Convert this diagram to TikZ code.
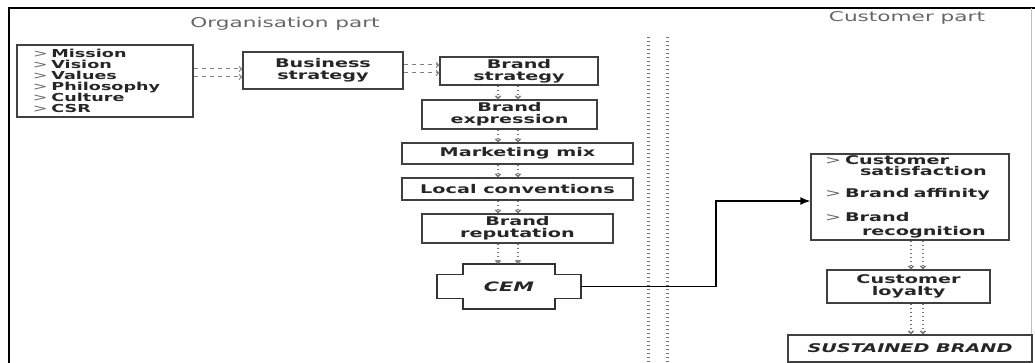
\documentclass[tikz,border=0pt]{standalone}
\usepackage{fontspec}
\setmainfont{DejaVu Sans}[FakeStretch=1.6]
\usetikzlibrary{arrows.meta}

\newcommand\gtmark{{\mdseries\color{black!60}>}\ }

\begin{document}
\begin{tikzpicture}[x=1pt, y=-1pt,
  every node/.style={text=black!85, font=\fontsize{12}{12}\selectfont\bfseries},
  box/.style={draw=black!75, line width=1.4pt, align=center, inner sep=0pt},
  dashlink/.style={draw=black!50, line width=1pt, dash pattern=on 4pt off 4pt,
    -{Straight Barb[length=2.5pt,width=5pt]}},
  dotlink/.style={draw=black!55, line width=1.4pt, dash pattern=on 1.4pt off 2.6pt,
    -{Straight Barb[length=2.5pt,width=5pt]}},
  divider/.style={draw=black!55, line width=3pt, dash pattern=on 1.2pt off 2.8pt},
  title/.style={text=black!60, font=\fontsize{13.5}{14}\selectfont\mdseries}]
  \useasboundingbox (0,0) rectangle (1035,363);

  % frame
  \draw[line width=2.2pt] (9,363) -- (9,8) -- (1035,8);
  \draw[black!25] (1031,8) -- (1031,335);

  % part titles
  \node[title] (orgpart) at (285,24) {Organisation part};
  \node[title] (custpart) at (907,18) {Customer part};

  % organisation side
  \node[box, minimum width=176, minimum height=72, text width=144, align=left,
    font=\fontsize{11}{11}\selectfont\bfseries] (vals) at (105,81)
    {\gtmark Mission\\ \gtmark Vision\\ \gtmark Values\\ \gtmark Philosophy\\
     \gtmark Culture\\ \gtmark CSR};
  \node[box, minimum width=160, minimum height=37] (bus) at (323,70.5) {Business\\strategy};
  \node[box, minimum width=158, minimum height=28] (bstr) at (519,71) {Brand\\strategy};
  \node[box, minimum width=175, minimum height=29] (bexp) at (509.5,114.5) {Brand\\expression};
  \node[box, minimum width=231, minimum height=21] (mix) at (517.5,153.5) {Marketing mix};
  \node[box, minimum width=231, minimum height=22] (loc) at (517.5,189) {Local conventions};
  \node[box, minimum width=191, minimum height=29] (brep) at (517.5,228.5) {Brand\\reputation};
  \node[minimum width=144, minimum height=45,
    font=\fontsize{13}{13}\selectfont\bfseries\itshape] (cem) at (509,286.5) {CEM};
  \draw[draw=black!80, line width=1.6pt] (cem.center)
    +(-46,-22.5) -- +(46,-22.5) -- +(46,-12) -- +(72,-12) -- +(72,12) -- +(46,12)
    -- +(46,22.5) -- +(-46,22.5) -- +(-46,12) -- +(-72,12) -- +(-72,-12) -- +(-46,-12) -- cycle;

  % customer side
  \node[box, minimum width=198, minimum height=86, text width=170, align=left,
    font=\fontsize{12}{11}\selectfont\bfseries] (cust) at (910,197)
    {\gtmark Customer\\ \hspace{35pt}satisfaction\\[11pt] \gtmark Brand affinity\\[11pt]
     \gtmark Brand\\[3pt] \hspace{37pt}recognition};
  \node[box, minimum width=163, minimum height=33] (loy) at (908.5,286.5) {Customer\\loyalty};
  \node[box, minimum width=244, minimum height=27,
    font=\fontsize{12}{12}\selectfont\bfseries\itshape] (sust) at (910,348.5) {SUSTAINED BRAND};

  % dashed links
  \coordinate (rowA) at (0,69);
  \coordinate (rowB) at (0,77);
  \coordinate (rowC) at (0,65);
  \coordinate (rowD) at (0,73);
  \draw[dashlink] (vals.east |- rowA) -- (bus.west |- rowA);
  \draw[dashlink] (vals.east |- rowB) -- (bus.west |- rowB);
  \draw[dashlink] (bus.east |- rowC) -- (bstr.west |- rowC);
  \draw[dashlink] (bus.east |- rowD) -- (bstr.west |- rowD);

  % dotted links down the columns
  \coordinate (colL) at (498,0);
  \coordinate (colR) at (518,0);
  \foreach \a/\b in {bstr/bexp, bexp/mix, mix/loc, loc/brep, brep/cem} {
    \draw[dotlink] (\a.south -| colL) -- (\b.north -| colL);
    \draw[dotlink] (\a.south -| colR) -- (\b.north -| colR);
  }
  \coordinate (colL2) at (911,0);
  \coordinate (colR2) at (923,0);
  \foreach \a/\b in {cust/loy, loy/sust} {
    \draw[dotlink] (\a.south -| colL2) -- (\b.north -| colL2);
    \draw[dotlink] (\a.south -| colR2) -- (\b.north -| colR2);
  }

  % divider between the parts
  \draw[divider] (648,37) -- (648,363);
  \draw[divider] (667,37) -- (667,363);

  % CEM to customer
  \coordinate (bend) at (716,0);
  \coordinate (tip) at ([yshift=-4pt]cust.west);
  \draw[line width=1.5pt, -{Latex[length=10pt,width=8pt]}] (cem.east) -| (bend |- tip) -- (tip);
\end{tikzpicture}
\end{document}
